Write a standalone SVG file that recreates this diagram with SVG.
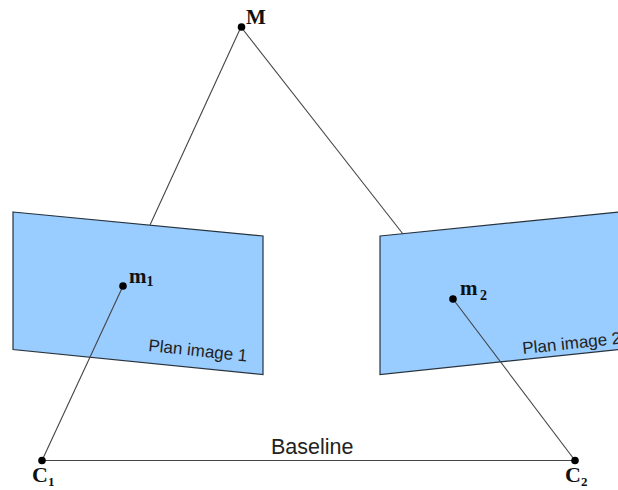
<svg xmlns="http://www.w3.org/2000/svg" width="618" height="490" viewBox="0 0 618 490">
<style>
.plane{fill:#99ccff;stroke:#26323c;stroke-width:1.2}
.ln{stroke:#444;stroke-width:1.1;fill:none}
.dot{fill:#000}
.b{font-family:"Liberation Serif",serif;font-weight:bold;fill:#111}
.s{font-family:"Liberation Sans",sans-serif;fill:#222}
</style>
<rect width="618" height="490" fill="#fff"/>
<g id="plane1"><polygon class="plane" points="13,212 263,236 263,374.500 13,349.500"/><text class="s" font-size="17" transform="translate(148,351) rotate(6)">Plan image 1</text></g>
<g id="plane2"><polygon class="plane" points="380,236 619,212 619,349.500 380,374.500"/><text class="s" font-size="17" transform="translate(523,354) rotate(-6)">Plan image 2</text></g>
<g id="connectors">
<line class="ln" x1="241" y1="27" x2="150" y2="225"/>
<line class="ln" x1="241" y1="27" x2="403" y2="234"/>
<line class="ln" x1="42" y1="460.500" x2="123" y2="286"/>
<line class="ln" x1="575" y1="460.500" x2="453" y2="299"/>
<line class="ln" x1="42" y1="460.500" x2="575" y2="460.500"/>
</g>
<g id="M"><circle class="dot" cx="241.500" cy="27" r="3.800"/><text class="b" font-size="21" x="246" y="24">M</text></g>
<g id="m1"><circle class="dot" cx="123" cy="286" r="3.800"/><text class="b" font-size="21" x="129" y="283">m<tspan font-size="14" dy="3">1</tspan></text></g>
<g id="m2"><circle class="dot" cx="453" cy="299" r="3.800"/><text class="b" font-size="21" x="460" y="295">m</text><text class="b" font-size="14" x="480" y="300">2</text></g>
<g id="C1"><circle class="dot" cx="42" cy="460.500" r="3.800"/><text class="b" font-size="22" x="32" y="482">C<tspan font-size="13" dy="4">1</tspan></text></g>
<g id="C2"><circle class="dot" cx="575" cy="460.500" r="3.800"/><text class="b" font-size="22" x="565" y="482">C<tspan font-size="13" dy="4">2</tspan></text></g>
<g id="baseline"><text class="s" font-size="21.500" x="271" y="454">Baseline</text></g>
</svg>
